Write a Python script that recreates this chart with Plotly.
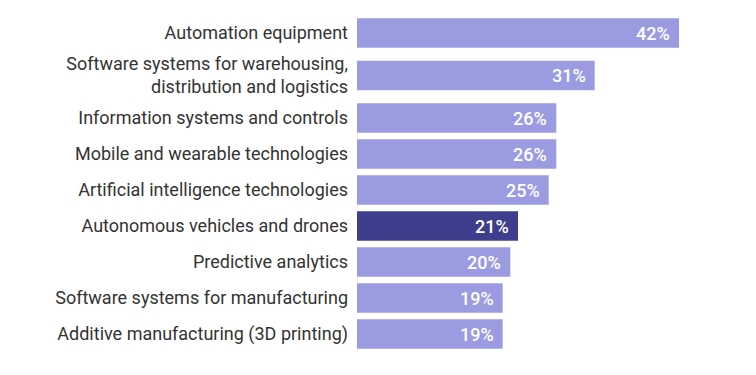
import plotly.graph_objects as go

categories = [
    "Automation equipment",
    "Software systems for warehousing,<br>distribution and logistics",
    "Information systems and controls",
    "Mobile and wearable technologies",
    "Artificial intelligence technologies",
    "Autonomous vehicles and drones",
    "Predictive analytics",
    "Software systems for manufacturing",
    "Additive manufacturing (3D printing)",
]
values = [42, 31, 26, 26, 25, 21, 20, 19, 19]
highlight = "Autonomous vehicles and drones"

light = "#9b9be1"
dark = "#3e3e8e"
colors = [dark if c == highlight else light for c in categories]

# row layout: each row is 36 px, rows with a wrapped label get extra room
ROW = 36
EXTRA_PER_LINE = 13
BAR_H = 29.4
row_heights = [ROW + EXTRA_PER_LINE * c.count("<br>") for c in categories]
centers = []
acc = 0
for h in row_heights:
    centers.append(acc + h / 2)
    acc += h
total = acc

fig = go.Figure(go.Bar(
    x=values,
    y=centers,
    orientation="h",
    width=BAR_H,
    marker=dict(color=colors, line=dict(width=0)),
    hoverinfo="skip",
))

for v, yc in zip(values, centers):
    fig.add_annotation(
        x=v, y=yc, xref="x", yref="y",
        text=f"{v}%",
        showarrow=False,
        xanchor="right", yanchor="middle",
        xshift=-7,
        font=dict(color="white", size=18, family="Roboto", weight=500),
    )

plot_h = total
top = 7
fig.update_layout(
    width=748,
    height=367,
    margin=dict(l=349, r=77, t=top, b=367 - top - plot_h, autoexpand=False),
    paper_bgcolor="white",
    plot_bgcolor="white",
    showlegend=False,
    font=dict(family="Roboto", size=18, color="#333333"),
)
fig.update_xaxes(range=[0, 42], visible=False, fixedrange=True, automargin=False)
fig.update_yaxes(
    range=[total, 0],
    tickmode="array",
    tickvals=centers,
    ticktext=categories,
    showgrid=False,
    zeroline=False,
    showline=False,
    ticks="",
    ticklabelstandoff=8,
    automargin=False,
    tickfont=dict(family="Roboto", size=18, color="#333333"),
    fixedrange=True,
)

fig.write_html("out.html")
